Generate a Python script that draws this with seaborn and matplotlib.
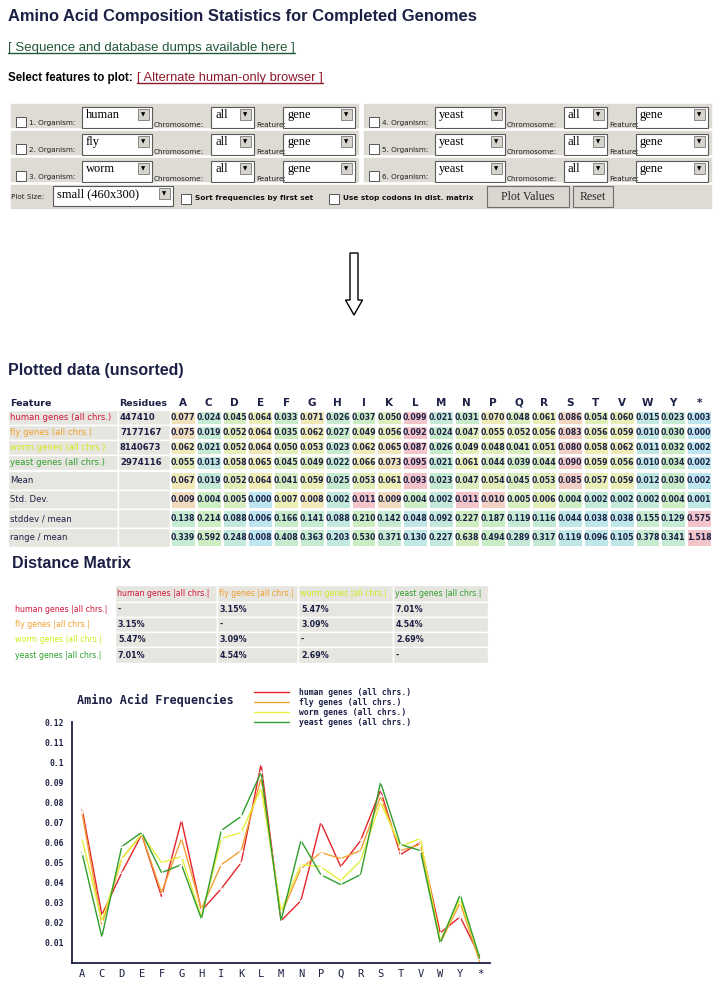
import matplotlib
matplotlib.use("Agg")
import matplotlib.pyplot as plt
from matplotlib.patches import Rectangle, FancyArrow
from matplotlib.colors import LinearSegmentedColormap
import numpy as np
import pandas as pd
import seaborn as sns

# ---- data ----
amino_acids = ["A", "C", "D", "E", "F", "G", "H", "I", "K", "L", "M",
               "N", "P", "Q", "R", "S", "T", "V", "W", "Y", "*"]
features = ["human genes (all chrs.)", "fly genes (all chrs.)",
            "worm genes (all chrs.)", "yeast genes (all chrs.)"]
residues = ["447410", "7177167", "8140673", "2974116"]

human = [0.077, 0.024, 0.045, 0.064, 0.033, 0.071, 0.026, 0.037, 0.050, 0.099, 0.021,
         0.031, 0.070, 0.048, 0.061, 0.086, 0.054, 0.060, 0.015, 0.023, 0.003]
fly = [0.075, 0.019, 0.052, 0.064, 0.035, 0.062, 0.027, 0.049, 0.056, 0.092, 0.024,
       0.047, 0.055, 0.052, 0.056, 0.083, 0.056, 0.059, 0.010, 0.030, 0.000]
worm = [0.062, 0.021, 0.052, 0.064, 0.050, 0.053, 0.023, 0.062, 0.065, 0.087, 0.026,
        0.049, 0.048, 0.041, 0.051, 0.080, 0.058, 0.062, 0.011, 0.032, 0.002]
yeast = [0.055, 0.013, 0.058, 0.065, 0.045, 0.049, 0.022, 0.066, 0.073, 0.095, 0.021,
         0.061, 0.044, 0.039, 0.044, 0.090, 0.059, 0.056, 0.010, 0.034, 0.002]

stat_labels = ["Mean", "Std. Dev.", "stddev / mean", "range / mean"]
mean_vals = [0.067, 0.019, 0.052, 0.064, 0.041, 0.059, 0.025, 0.053, 0.061, 0.093, 0.023,
             0.047, 0.054, 0.045, 0.053, 0.085, 0.057, 0.059, 0.012, 0.030, 0.002]
std_vals = [0.009, 0.004, 0.005, 0.000, 0.007, 0.008, 0.002, 0.011, 0.009, 0.004, 0.002,
            0.011, 0.010, 0.005, 0.006, 0.004, 0.002, 0.002, 0.002, 0.004, 0.001]
sd_over_mean = [0.138, 0.214, 0.088, 0.006, 0.166, 0.141, 0.088, 0.210, 0.142, 0.048, 0.092,
                0.227, 0.187, 0.119, 0.116, 0.044, 0.038, 0.038, 0.155, 0.129, 0.575]
range_over_mean = [0.339, 0.592, 0.248, 0.008, 0.408, 0.363, 0.203, 0.530, 0.371, 0.130, 0.227,
                   0.638, 0.494, 0.289, 0.317, 0.119, 0.096, 0.105, 0.378, 0.341, 1.518]

dist_labels = ["human genes |all chrs.|", "fly genes |all chrs.|",
               "worm genes |all chrs.|", "yeast genes |all chrs.|"]
dist_pct = [[None, 3.15, 5.47, 7.01],
            [3.15, None, 3.09, 4.54],
            [5.47, 3.09, None, 2.69],
            [7.01, 4.54, 2.69, None]]

organisms = ["human", "fly", "worm", "yeast", "yeast", "yeast"]
y_ticks = [0.01, 0.02, 0.03, 0.04, 0.05, 0.06, 0.07, 0.08, 0.09, 0.10, 0.11, 0.12]

# ---- styling ----
NAVY = "#1c2045"
GRAY = "#dddbd3"
CELL = "#e6e5df"
feat_colors = ["#d4173a", "#f0a030", "#d4ea1c", "#2ea02e"]
line_colors = ["#e3242b", "#f2a033", "#e4f03a", "#2f9e2f"]
HEAD = ["Liberation Sans"]
SANS = ["DejaVu Sans"]
SERIF = ["Liberation Serif"]
MONO = ["DejaVu Sans Mono"]

sns.set_style("white")
plt.rcParams["font.family"] = ["DejaVu Sans"]

fig = plt.figure(figsize=(7.2, 9.84), dpi=100)
page = fig.add_axes([0, 0, 1, 1])
page.set_xlim(0, 720)
page.set_ylim(984, 0)
page.axis("off")


def frac(x0, y0, x1, y1):
    return [x0 / 720, 1 - y1 / 984, (x1 - x0) / 720, (y1 - y0) / 984]


def text_box(t):
    r = fig.canvas.get_renderer()
    bb = t.get_window_extent(renderer=r)
    inv = page.transData.inverted()
    (x0, yb), (x1, yt) = inv.transform([[bb.x0, bb.y0], [bb.x1, bb.y1]])
    return x0, x1, yb, yt


def underline(t, color):
    x0, x1, yb, _ = text_box(t)
    page.plot([x0, x1], [yb - 0.5, yb - 0.5], color=color, lw=1)


def select_box(x, y, w, h, label):
    page.add_patch(Rectangle((x, y), w, h, fc="white", ec="#5a5a5a", lw=0.8))
    page.add_patch(Rectangle((x + w - 14, y + 2), 11, 11, fc="#d6d4cc", ec="#777777", lw=0.6))
    page.text(x + w - 8.5, y + 7.5, "\u25bc", fontsize=4, ha="center", va="center", color="black")
    page.text(x + 4, y + 8, label, family=SERIF, fontsize=9, va="center", color="black")


def checkbox(x, y):
    page.add_patch(Rectangle((x, y), 10, 10, fc="white", ec="#555555", lw=0.7))


# ---- header text ----
page.text(8, 17, "Amino Acid Composition Statistics for Completed Genomes",
          family=HEAD, fontsize=11.9, fontweight="bold", color=NAVY, va="center")
t = page.text(8, 48, "[ Sequence and database dumps available here ]",
              family=HEAD, fontsize=9.5, color="#23573a", va="center")
underline(t, "#23573a")
t = page.text(8, 78, "Select features to plot:", family=HEAD, fontsize=8.3,
              fontweight="bold", color="black", va="center")
x_end = text_box(t)[1]
t = page.text(x_end + 4, 78, "[ Alternate human-only browser ]",
              family=HEAD, fontsize=9.3, color="#8b1a2b", va="center")
underline(t, "#8b1a2b")

# ---- form panel ----
row_tops = [103, 130, 157]
for r, top in enumerate(row_tops):
    for g, dx in enumerate([0, 353]):
        page.add_patch(Rectangle((10 + dx, top), 350, 26, fc=GRAY, ec="white", lw=1.2))
        checkbox(16 + dx, top + 14)
        page.text(29 + dx, top + 20, f"{r + 1 + 3 * g}. Organism:", fontsize=5.2,
                  family=SANS, va="center", color="#222222")
        select_box(82 + dx, top + 4, 70, 21, organisms[r + 3 * g])
        page.text(154 + dx, top + 22, "Chromosome:", fontsize=5.2, family=SANS,
                  va="center", color="#222222")
        select_box(211 + dx, top + 4, 43, 21, "all")
        page.text(256 + dx, top + 22, "Feature:", fontsize=5.2, family=SANS,
                  va="center", color="#222222")
        select_box(283 + dx, top + 4, 72, 21, "gene")

page.add_patch(Rectangle((10, 184), 703, 26, fc=GRAY, ec="white", lw=1.2))
page.text(11, 197, "Plot Size:", fontsize=5.2, family=SANS, va="center", color="#222222")
select_box(53, 186, 120, 20, "small (460x300)")
checkbox(181, 194)
page.text(195, 198, "Sort frequencies by first set", fontsize=5.3, family=SANS,
          fontweight="bold", va="center", color="#111111")
checkbox(329, 194)
page.text(343, 198, "Use stop codons in dist. matrix", fontsize=5.3, family=SANS,
          fontweight="bold", va="center", color="#111111")
for bx, bw, lab in [(487, 82, "Plot Values"), (573, 40, "Reset")]:
    page.add_patch(Rectangle((bx, 186), bw, 21, fc="#d9d7cf", ec="#6e6e6e", lw=0.8))
    page.text(bx + bw / 2, 196.5, lab, family=SERIF, fontsize=8.5, ha="center", va="center")

# ---- hollow arrow ----
page.add_patch(FancyArrow(354, 253, 0, 62, width=8, head_width=17, head_length=15,
                          length_includes_head=True, fc="white", ec="black", lw=1))

# ---- plotted data table ----
page.text(8, 370, "Plotted data (unsorted)", family=HEAD, fontsize=11.5,
          fontweight="bold", color=NAVY, va="center")
page.text(10, 403, "Feature", fontsize=6.8, fontweight="bold", color=NAVY, va="center")
page.text(119, 403, "Residues", fontsize=6.8, fontweight="bold", color=NAVY, va="center")

heat_cmap = LinearSegmentedColormap.from_list(
    "pastel", ["#bde6f0", "#c9edc3", "#f0efb4", "#f3c4ca"])

gen_vals = np.array([human, fly, worm, yeast])
stat_vals = np.array([mean_vals, std_vals, sd_over_mean, range_over_mean])


def row_norm(a):
    lo = a.min(axis=1, keepdims=True)
    hi = a.max(axis=1, keepdims=True)
    return (a - lo) / np.where(hi - lo == 0, 1, hi - lo)


blocks = [(gen_vals, 410, 15, features, feat_colors, residues),
          (stat_vals, 471, 19, stat_labels, [NAVY] * 4, [""] * 4)]
for b, (vals, top, rh, labels, colors, res) in enumerate(blocks):
    n = len(labels)
    ax = fig.add_axes(frac(170, top, 712, top + rh * n))
    annot = np.array([[f"{v:.3f}" for v in row] for row in vals])
    sns.heatmap(row_norm(vals), ax=ax, cmap=heat_cmap, vmin=0, vmax=1, cbar=False,
                annot=annot, fmt="", linewidths=1, linecolor="white",
                xticklabels=amino_acids if b == 0 else False, yticklabels=False,
                annot_kws={"fontsize": 5.6, "fontweight": "bold", "color": NAVY})
    if b == 0:
        ax.xaxis.tick_top()
        ax.tick_params(axis="x", length=0, pad=1.5)
        for lab in ax.get_xticklabels():
            lab.set_fontweight("bold")
            lab.set_fontsize(7.5)
            lab.set_color(NAVY)
            lab.set_rotation(0)
    for i in range(n):
        y0 = top + rh * i
        page.add_patch(Rectangle((8, y0), 110, rh, fc=CELL, ec="white", lw=1))
        page.add_patch(Rectangle((118, y0), 52, rh, fc=CELL, ec="white", lw=1))
        page.text(10, y0 + rh / 2, labels[i], fontsize=6.1, color=colors[i], va="center")
        page.text(120, y0 + rh / 2, res[i], fontsize=6.1, fontweight="bold",
                  color=NAVY, va="center")

# ---- distance matrix ----
page.text(12, 563, "Distance Matrix", family=HEAD, fontsize=11.5,
          fontweight="bold", color=NAVY, va="center")
col_edges = [115, 217, 298, 393, 488]
row_edges = [585, 602, 617, 632, 647, 663]
for j in range(4):
    page.add_patch(Rectangle((col_edges[j], row_edges[0]), col_edges[j + 1] - col_edges[j],
                             row_edges[1] - row_edges[0], fc=CELL, ec="white", lw=1))
    page.text(col_edges[j] + 2, (row_edges[0] + row_edges[1]) / 2, dist_labels[j],
              fontsize=5.7, color=feat_colors[j], va="center")
for i in range(4):
    yc = (row_edges[i + 1] + row_edges[i + 2]) / 2
    page.text(15, yc, dist_labels[i], fontsize=5.7, color=feat_colors[i], va="center")
    for j in range(4):
        page.add_patch(Rectangle((col_edges[j], row_edges[i + 1]), col_edges[j + 1] - col_edges[j],
                                 row_edges[i + 2] - row_edges[i + 1], fc=CELL, ec="white", lw=1))
        v = dist_pct[i][j]
        page.text(col_edges[j] + 3, yc, "-" if v is None else f"{v:.2f}%",
                  fontsize=5.8, fontweight="bold", color=NAVY, va="center")

# ---- amino acid frequency line chart ----
freq = pd.DataFrame({
    "pos": list(range(len(amino_acids))) * 4,
    "feature": [f for f in features for _ in amino_acids],
    "freq": human + fly + worm + yeast,
})
axc = fig.add_axes(frac(72, 722, 490, 963))
sns.lineplot(data=freq, x="pos", y="freq", hue="feature", hue_order=features,
             palette=line_colors, marker="+", markersize=3.5, markeredgewidth=0.8,
             linewidth=1, sort=False, ax=axc)
axc.set_xlim(-0.5, 20.5)
axc.set_ylim(0, 0.12)
axc.set_xlabel("")
axc.set_ylabel("")
axc.set_xticks(range(len(amino_acids)))
axc.set_xticklabels(amino_acids, family=MONO, fontsize=7.5, color=NAVY)
axc.set_xticks(np.arange(0.5, 21, 1), minor=True)
axc.tick_params(axis="x", which="major", length=0, pad=4)
axc.tick_params(axis="x", which="minor", length=5, direction="inout", width=1, color=NAVY)
axc.set_yticks(y_ticks)
axc.set_yticklabels([f"{v:g}" for v in y_ticks], family=MONO, fontsize=5.8,
                    fontweight="bold", color=NAVY)
axc.tick_params(axis="y", length=5, direction="inout", width=1, color=NAVY, pad=3)
for s in ["top", "right"]:
    axc.spines[s].set_visible(False)
for s in ["left", "bottom"]:
    axc.spines[s].set_color(NAVY)
    axc.spines[s].set_linewidth(1.3)
axc.grid(False)

handles, labels = axc.get_legend_handles_labels()
axc.get_legend().remove()
leg = fig.legend(handles, labels, loc="upper left", bbox_to_anchor=(250 / 720, 1 - 684 / 984),
                 frameon=False, prop={"family": MONO, "size": 5.8, "weight": "bold"},
                 handlelength=4.4, handletextpad=1.2, labelspacing=0.12, borderpad=0)
for h in leg.legend_handles:
    h.set_marker("")
for txt in leg.get_texts():
    txt.set_color(NAVY)

fig.text(77 / 720, 1 - 700 / 984, "Amino Acid Frequencies", family=MONO, fontsize=8.5,
         fontweight="bold", color=NAVY, va="center")

fig.savefig("out.png", dpi=100)
